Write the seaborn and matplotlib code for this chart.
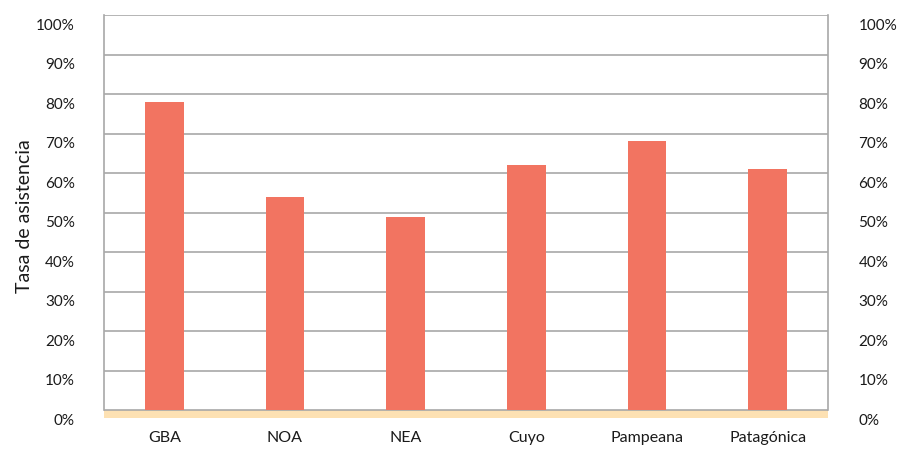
import matplotlib
matplotlib.use("Agg")
import matplotlib.pyplot as plt
import matplotlib.transforms as mtransforms
import seaborn as sns
import pandas as pd

# ---- data ----
regions = ["GBA", "NOA", "NEA", "Cuyo", "Pampeana", "Patagónica"]
attendance = [78, 54, 49, 62, 68, 61]
y_ticks = [0, 10, 20, 30, 40, 50, 60, 70, 80, 90, 100]
y_tick_labels = [f"{t}%" for t in y_ticks]
y_label = "Tasa de asistencia"

# ---- style ----
sns.set_theme(style="white")
plt.rcParams["font.family"] = ["Lato", "DejaVu Sans"]
BAR_COLOR = "#F27461"
FLOOR_COLOR = "#FDE1B3"
GRID_COLOR = "#A8A8A8"
TEXT_COLOR = "#1A1A1A"

df = pd.DataFrame({"region": regions, "value": attendance})

fig = plt.figure(figsize=(8.98, 4.5), dpi=100)
ax = fig.add_axes([104 / 898, 32 / 450, 724 / 898, 403 / 450])

sns.barplot(data=df, x="region", y="value", color=BAR_COLOR, width=0.32,
            saturation=1, linewidth=0, edgecolor="none", ax=ax, zorder=3)

ax.set_ylim(-2, 100)
ax.set_xlim(-0.5, len(regions) - 0.5)
ax.axhspan(-2, 0, color=FLOOR_COLOR, zorder=0.5, lw=0)

ax.set_yticks(y_ticks)
ax.set_yticklabels(y_tick_labels)
ax.yaxis.grid(True, color=GRID_COLOR, lw=1.2, zorder=1)
ax.set_axisbelow(True)

for side in ["top", "bottom"]:
    ax.spines[side].set_visible(False)
for side in ["left", "right"]:
    ax.spines[side].set_visible(True)
    ax.spines[side].set_color(GRID_COLOR)
    ax.spines[side].set_linewidth(1.2)
    ax.spines[side].set_bounds(0, 100)

ax.set_xlabel("")
ax.set_ylabel(y_label, fontsize=14, color=TEXT_COLOR)
ax.yaxis.set_label_coords(-0.098, 0.5)
ax.tick_params(axis="y", length=0, pad=21, labelsize=11, labelcolor=TEXT_COLOR)
ax.tick_params(axis="x", length=0, pad=9.5, labelsize=11.5, labelcolor=TEXT_COLOR)

ax2 = ax.twinx()
ax2.set_ylim(ax.get_ylim())
ax2.set_yticks(y_ticks)
ax2.set_yticklabels(y_tick_labels)
ax2.tick_params(axis="y", length=0, pad=22, labelsize=11, labelcolor=TEXT_COLOR)
for s in ax2.spines.values():
    s.set_visible(False)

offset = mtransforms.ScaledTranslation(0, -9 / 100, fig.dpi_scale_trans)
for a in (ax, ax2):
    for lbl in a.get_yticklabels():
        lbl.set_transform(lbl.get_transform() + offset)

fig.savefig("out.png", dpi=100)
